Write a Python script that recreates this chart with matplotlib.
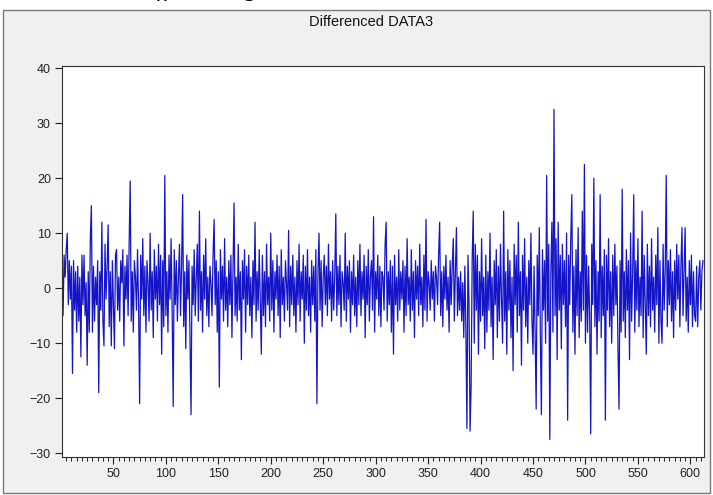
import numpy as np
import matplotlib
matplotlib.use("Agg")
import matplotlib.pyplot as plt
from matplotlib.patches import Rectangle

diff_data3 = [
    7, -5, 6, 2, 7, 10, -3, 5, -2, 4, -15.5, 5, -4, 3, -8, 4, -6, 2, -12.5, 6,
    -3, 6, -5, 1, -14, 3, -8, 9, 15, -8, 4, -6, 2, -3, 5, -19, 3, -4, 12, -6,
    -10.5, 8, -2, 4, 11.5, -7, 3, -10.5, 5, -3, -11, 6, 7, -4, 2, -6, 5, 1, 7, -10.5,
    4, -2, 6, -5, 8, 19.5, -6, 3, -8, 5, 2, -4, 7, -3, -21, 6, -2, 9, -5, 4,
    -8, 5, 1, -6, 10, -4, 3, -9, 7, -2, 4, -6, 8, -3, 6, -12, 5, -7, 20.5, -5,
    3, -8, 6, -2, 9, -4, -21.5, 7, -3, 5, -6, 2, 8, -5, 4, 17, -7, 3, -11, 6,
    -2, 5, -9, -23, 4, -3, 7, -5, 2, 8, -6, 14, -4, 3, -8, 6, -2, 9, -5, 2,
    -7, 4, 1, -5, 6, 12.5, -3, 5, -8, 3, -18, 7, -2, 4, -6, 9, -4, 2, -7, 5,
    -3, 6, -9, 3, 15.5, -5, 2, -6, 8, -4, 3, -13, 5, -2, 7, -8, 4, -3, 6, -5,
    2, -9, 5, -3, 12, -6, 3, -4, 7, -2, -12, 6, -5, 3, -7, 8, -3, 2, -6, 10,
    -4, 5, -8, 3, -2, 6, -5, 4, -9, 7, -3, 2, -6, 5, 1, -4, 10.5, -7, 4, -3,
    6, -5, 2, -8, 5, -3, 8, -6, 3, -2, 6, -10, 4, -4, 7, -5, 2, -8, 5, -3,
    4, -6, 7, -21, 3, 10, -4, 5, -7, 2, 6, -3, 4, -5, 8, -2, 3, -6, 5, -4,
    2, 13.5, -5, 4, -3, 6, -7, 3, 1, -4, 10, -6, 4, -2, 5, -8, 3, -3, 6, -5,
    2, -7, 5, -3, 8, -5, 3, -2, 6, -9, 4, -3, 7, -6, 2, 5, -4, 13, -8, 3,
    -2, 6, -5, 4, -7, 3, 2, -4, 8, 12, -6, 3, -3, 5, -8, 4, -12, 6, -3, 2,
    -6, 7, -4, 3, -2, 5, -8, 4, -5, 9, -3, 2, -6, 7, -4, 3, -9, 5, -2, 4,
    -5, 8, -3, 2, -7, 6, -4, 12.5, -6, 3, 1, -4, 5, -2, 3, -6, 4, 2, -3, 6,
    12, -5, 3, -7, 4, -2, 6, -4, 2, -8, 5, -3, 4, 9, -6, 3, 11, -5, 2, -4,
    3, -6, 1, -9, 4, -7, -25.5, 6, -3, -26, -18, 5, 14, -10, 8, -4, 6, -12, 3, -6,
    9, -5, 2, -11, 6, -8, 3, -4, 10, -7, 2, -13, 5, -3, 7, -9, 4, -6, 8, -2,
    -10, 14, -6, 3, -12, 7, -4, 5, -9, 2, -15, 8, -3, 6, -8, 12, -5, 3, -14, 6,
    -4, 9, -7, 2, -10, 5, -3, 10, -6, -12, 4, -8, -22, 6, -5, 11, -9, -23, 7, -4,
    5, -10, 20.5, -6, 8, -27.5, 3, 12, -8, 32.5, -5, 9, -13, 12, -4, 6, -11, 8, -3, 5,
    -7, 10, -24, 6, -3, 9, 17, -8, 4, -12, 7, -5, 11, -9, 3, -6, 14, -4, 22.5, -10,
    6, -8, 4, -5, -26.5, 8, -3, 20, -7, 5, -12, 3, -6, 17, -9, 4, -5, 7, -24, 6,
    -4, 9, -7, 3, -10, 6, -5, 8, -3, 4, -11, -22, 5, -8, 18, -6, 3, -9, 7, -4,
    5, -13, 10, -6, 3, 17, -8, 5, -4, 9, -7, 2, -5, 14, -9, 6, -3, -12, 8, -5,
    4, -7, 9, -4, 2, -8, 6, -3, 11, -10, 5, -6, -10, 8, -4, 3, 20.5, -7, 5, -3,
    7, -6, 3, -9, 5, -4, 8, -2, 6, -7, 4, 11, -5, 3, 11, -6, 2, -8, 5, -3,
    6, -7, 3, -5, -6, 4, -7, 2, 5, -4, 3, 5,
]
obs = np.arange(1, len(diff_data3) + 1)

y_ticks = [-30, -20, -10, 0, 10, 20, 30, 40]
x_ticks = [50, 100, 150, 200, 250, 300, 350, 400, 450, 500, 550, 600]
title = "Differenced DATA3"

W, H = 713, 495
fig = plt.figure(figsize=(W / 100, H / 100), dpi=100)
fig.patch.set_facecolor("white")

# grey eviews-style frame, kept behind the axes
frame = Rectangle((3 / W, 1 - 493 / H), 707 / W, 483 / H,
                  transform=fig.transFigure, facecolor="#f0f0f0",
                  edgecolor="#7a7a7a", linewidth=1.0, zorder=-5)
fig.patches.append(frame)

# caption above the frame, only its lower edge shows in the original screenshot
fig.text(195 / W, 1 + 4 / H, "Differencing", ha="center", va="baseline",
         fontsize=18, style="italic", family="Liberation Serif")

fig.text(371 / W, 1 - 22 / H, title, ha="center", va="center",
         fontsize=10.5, family="Liberation Sans", color="#111111")

ax = fig.add_axes([62 / W, 1 - 457 / H, 642 / W, 391 / H], zorder=2)
ax.set_facecolor("white")
ax.plot(obs, diff_data3, color="#1414c8", linewidth=0.9)

ax.set_xlim(1, 613)
ax.set_ylim(-30.7, 40.4)
ax.set_yticks(y_ticks)
ax.set_xticks(x_ticks)
ax.set_xticks(np.arange(5, 613, 5), minor=True)
ax.tick_params(axis="both", which="major", direction="out", length=5,
               width=0.8, color="#222222", labelsize=9, pad=3)
ax.tick_params(axis="x", which="minor", direction="out", length=3,
               width=0.7, color="#222222")
for lab in ax.get_xticklabels() + ax.get_yticklabels():
    lab.set_family("Liberation Sans")
    lab.set_color("#222222")
for s in ax.spines.values():
    s.set_color("#333333")
    s.set_linewidth(0.8)

fig.savefig("out.png", dpi=100)
